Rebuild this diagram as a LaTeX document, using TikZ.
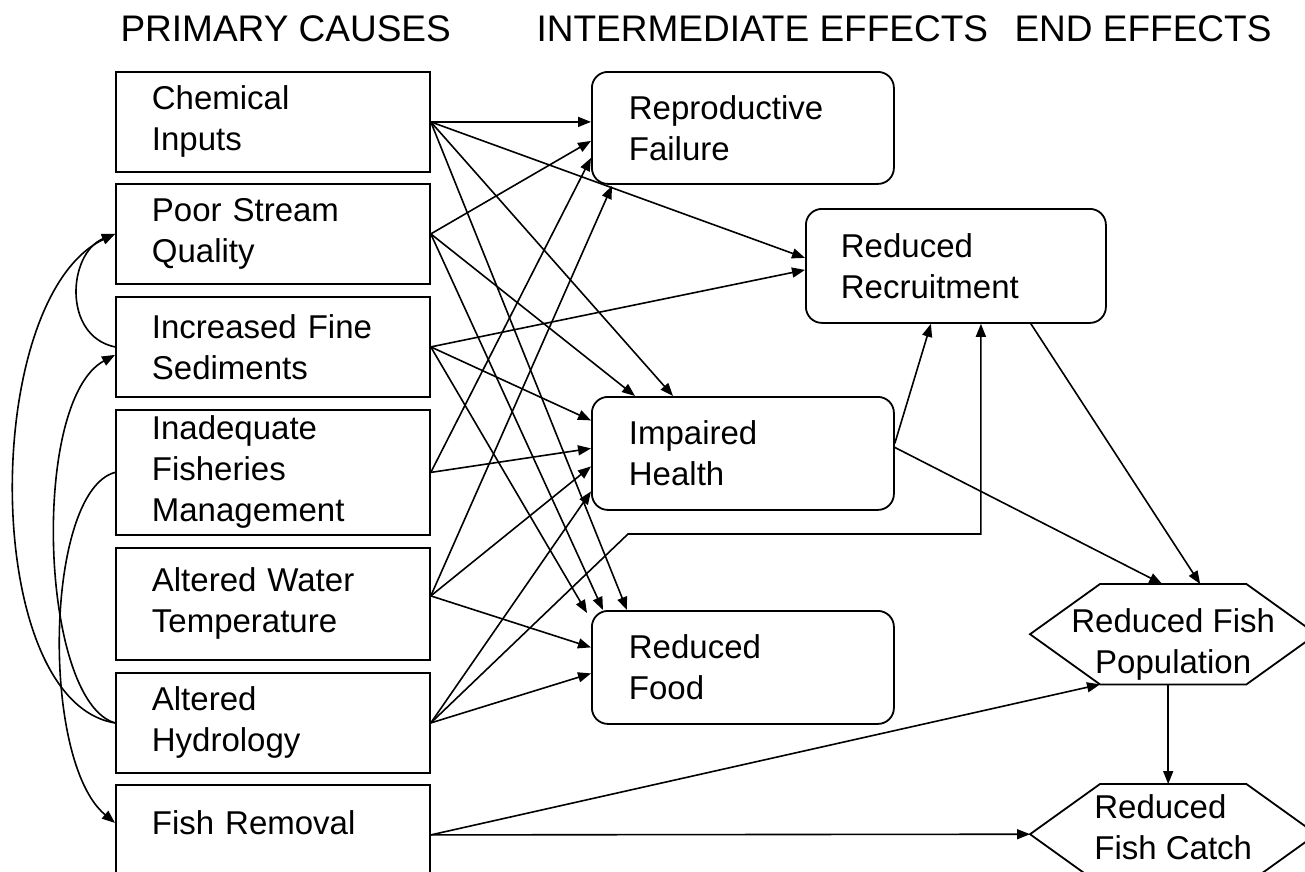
\documentclass[tikz,border=0pt]{standalone}
\usepackage{fontspec}
\setmainfont{Liberation Sans}
\usetikzlibrary{arrows.meta,calc}

\tikzset{
    cause/.style={draw, line width=1.8pt, anchor=north west, minimum width=314pt, text width=242pt, inner xsep=36pt, inner ysep=0pt, align=left, font=\fontsize{33}{41}\selectfont},
    effect/.style={draw, line width=1.8pt, rounded corners=16pt, anchor=north west, minimum width=302pt, text width=228pt, inner xsep=37pt, inner ysep=0pt, align=left, font=\fontsize{33}{41}\selectfont},
    hexa/.style={anchor=north west, minimum width=286pt, minimum height=100pt, inner sep=0pt, font=\fontsize{33}{41}\selectfont},
    head/.style={anchor=base west, font=\fontsize{37}{40}\selectfont},
    arr/.style={line width=1.6pt, -{Triangle[length=13pt,width=10pt]}}
}

\begin{document}
\begin{tikzpicture}[x=1pt,y=-1pt]
    \useasboundingbox (0,0) rectangle (1305,871);

    \node[head] (tpc) at (117,41) {PRIMARY CAUSES};
    \node[head] (tie) at (533,41) {INTERMEDIATE EFFECTS};
    \node[head] (tee) at (1011,41) {END EFFECTS};

    \node[cause, minimum height=100pt] (chem) at (115,71) {Chemical\\Inputs};
    \node[cause, minimum height=100pt] (psq) at (115,183) {Poor Stream\\Quality};
    \node[cause, minimum height=100pt] (ifs) at (115,296) {Increased Fine\\Sediments};
    \node[cause, minimum height=125pt] (ifm) at (115,409) {Inadequate\\Fisheries\\Management};
    \node[cause, minimum height=112pt] (awt) at (115,547) {Altered Water\\Temperature};
    \node[cause, minimum height=100pt] (ahy) at (115,672) {Altered\\Hydrology};
    \node[cause, minimum height=100pt, text depth=25pt] (frm) at (115,784) {Fish Removal};

    \node[effect, minimum height=112pt] (repro) at (591,71) {Reproductive\\Failure};
    \node[effect, minimum height=114pt, minimum width=300pt, text width=230pt, inner xsep=35pt] (rrc) at (805,208) {Reduced\\Recruitment};
    \node[effect, minimum height=113pt] (ihl) at (591,396) {Impaired\\Health};
    \node[effect, minimum height=113pt] (rfd) at (591,610) {Reduced\\Food};

    \node[hexa, align=center] (pop) at (1030,584) {\rule{0pt}{45pt}Reduced Fish\\Population};
    \node[hexa, align=left] (ctc) at (1030,784) {Reduced\\Fish Catch\rule[-15pt]{0pt}{15pt}};
    \foreach \h in {pop,ctc}
        \draw[line width=1.8pt] (\h.west) -- ($(\h.north west)+(70,0)$) -- ($(\h.north east)+(-70,0)$) -- (\h.east)
            -- ($(\h.south east)+(-70,0)$) -- ($(\h.south west)+(70,0)$) -- cycle;

    \coordinate (elb) at (628,534);

    % causes -> intermediate effects
    \draw[arr] (chem.east) -- ($(repro.west)+(0,-6)$);
    \draw[arr] (chem.east) -- ($(rrc.west)+(0,-8)$);
    \draw[arr] (chem.east) -- ($(ihl.north west)+(82,0)$);
    \draw[arr] (chem.east) -- ($(rfd.north west)+(36,0)$);
    \draw[arr] (psq.east) -- ($(repro.west)+(0,13)$);
    \draw[arr] (psq.east) -- ($(ihl.north west)+(44,0)$);
    \draw[arr] (psq.east) -- ($(rfd.north west)+(12,0)$);
    \draw[arr] (ifs.east) -- ($(rrc.west)+(0,4)$);
    \draw[arr] (ifs.east) -- ($(ihl.west)+(0,-33)$);
    \draw[arr] (ifs.east) -- ($(rfd.north west)+(-4,3)$);
    \draw[arr] (ifm.east) -- ($(repro.west)+(0,30)$);
    \draw[arr] (ifm.east) -- ($(ihl.west)+(0,-5)$);
    \draw[arr] ($(awt.east)+(0,-8)$) -- ($(repro.south west)+(21,1)$);
    \draw[arr] ($(awt.east)+(0,-8)$) -- ($(ihl.west)+(0,13)$);
    \draw[arr] ($(awt.east)+(0,-8)$) -- ($(rfd.west)+(0,-20)$);
    \draw[arr] (ahy.east) -- ($(ihl.west)+(0,38)$);
    \draw[arr] (ahy.east) -- ($(rfd.west)+(0,6)$);
    \draw[arr] (ahy.east) -- (elb) -| ($(rrc.south)+(25,0)$);

    % intermediate -> end effects
    \draw[arr] ($(ihl.east)+(0,-10)$) -- ($(rrc.south)+(-25,0)$);
    \draw[arr] ($(ihl.east)+(0,-6)$) -- ($(pop.north)+(-11,0)$);
    \draw[arr] ($(rrc.south)+(75,0)$) -- ($(pop.north)+(27,0)$);
    \draw[arr] ($(pop.south)+(-5,0)$) -- ($(ctc.north)+(-5,0)$);
    \draw[arr] (frm.east) -- ($(pop.south west)+(70,0)$);
    \draw[arr] (frm.east) -- (ctc.west);

    % links between causes
    \draw[arr] (ifs.west) .. controls +(-53,-11) and +(-47,19) .. (psq.west);
    \draw[arr] (ahy.west) .. controls +(-135,-22) and +(-135,64) .. (psq.west);
    \draw[arr] (ahy.west) .. controls +(-75,-22) and +(-85,46) .. ($(ifs.west)+(0,8)$);
    \draw[arr] (ifm.west) .. controls +(-70,19) and +(-75,-62) .. ($(frm.west)+(0,-12)$);
\end{tikzpicture}
\end{document}
